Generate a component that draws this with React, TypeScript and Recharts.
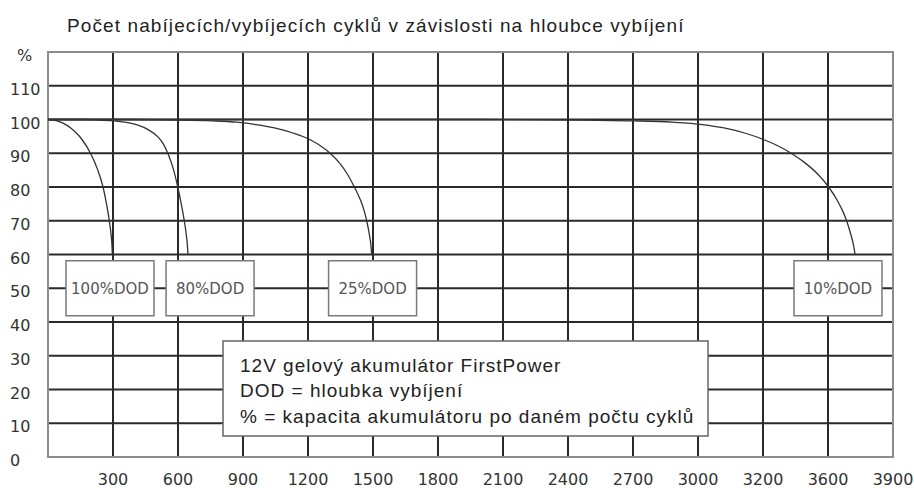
import React from 'react';
import { LineChart, Line, XAxis, YAxis, CartesianGrid, ReferenceArea, ReferenceDot } from 'recharts';

const xTickValues = [300, 600, 900, 1200, 1500, 1800, 2100, 2400, 2700, 3000, 3300, 3600, 3900];
const xTickLabels = ['300', '600', '900', '1200', '1500', '1800', '2100', '2400', '2700', '3000', '3200', '3600', '3900'];
const yTickValues = [0, 10, 20, 30, 40, 50, 60, 70, 80, 90, 100, 110, 120];

const dod100 = [
  { x: 0, y: 100 }, { x: 28, y: 99.8 }, { x: 55, y: 99.3 }, { x: 82, y: 98.5 },
  { x: 105, y: 97.5 }, { x: 131, y: 96 }, { x: 158, y: 94 }, { x: 196, y: 90 },
  { x: 230, y: 85 }, { x: 254, y: 80 }, { x: 270, y: 75 }, { x: 283, y: 70 },
  { x: 291, y: 66 }, { x: 295, y: 63 }, { x: 297, y: 60 },
];
const dod80 = [
  { x: 0, y: 100 }, { x: 150, y: 100 }, { x: 280, y: 99.7 }, { x: 355, y: 99.2 },
  { x: 415, y: 98.3 }, { x: 462, y: 97 }, { x: 505, y: 95 }, { x: 530, y: 93 },
  { x: 553, y: 90 }, { x: 580, y: 85 }, { x: 599, y: 80 }, { x: 615, y: 75 },
  { x: 629, y: 70 }, { x: 638, y: 66 }, { x: 643, y: 63 }, { x: 646, y: 60 },
];
const dod25 = [
  { x: 0, y: 100 }, { x: 300, y: 100 }, { x: 600, y: 99.85 }, { x: 760, y: 99.6 },
  { x: 870, y: 99.2 }, { x: 960, y: 98.5 }, { x: 1045, y: 97.5 }, { x: 1130, y: 96 },
  { x: 1210, y: 94 }, { x: 1262, y: 92 }, { x: 1302, y: 90 }, { x: 1347, y: 87 },
  { x: 1380, y: 84 }, { x: 1414, y: 80 }, { x: 1443, y: 76 }, { x: 1459, y: 73 },
  { x: 1471, y: 70 }, { x: 1483, y: 66 }, { x: 1490, y: 63 }, { x: 1494, y: 60 },
];
const dod10 = [
  { x: 0, y: 100 }, { x: 2000, y: 100 }, { x: 2450, y: 99.85 }, { x: 2700, y: 99.6 },
  { x: 2880, y: 99.2 }, { x: 3020, y: 98.5 }, { x: 3120, y: 97.5 }, { x: 3215, y: 96 },
  { x: 3305, y: 94 }, { x: 3375, y: 92 }, { x: 3430, y: 90 }, { x: 3497, y: 87 },
  { x: 3550, y: 84 }, { x: 3603, y: 80 }, { x: 3643, y: 76 }, { x: 3667, y: 73 },
  { x: 3686, y: 70 }, { x: 3705, y: 66 }, { x: 3717, y: 63 }, { x: 3725, y: 60 },
];

const dodLabels = [
  { x: 286, y: 50, text: '100%DOD' },
  { x: 748, y: 50, text: '80%DOD' },
  { x: 1498, y: 50, text: '25%DOD' },
  { x: 3646, y: 50, text: '10%DOD' },
];

const infoAnchor = { x: 1927, y: 20.3 };
const infoLines = [
  '12V gelový akumulátor FirstPower',
  'DOD = hloubka vybíjení',
  '% = kapacita akumulátoru po daném počtu cyklů',
];

const title = 'Počet nabíjecích/vybíjecích cyklů v závislosti na hloubce vybíjení';

const tickFont = '"DejaVu Sans", Verdana, sans-serif';
const textFont = '"Liberation Sans", Arial, sans-serif';

const YTick = (props: any) => {
  const { y, payload } = props;
  const isTop = payload.value === 120;
  return (
    <text x={isTop ? 17 : 10} y={y + 9} textAnchor="start" fontFamily={tickFont} fontSize={16} fill="#333">
      {isTop ? '%' : String(payload.value)}
    </text>
  );
};

const XTick = (props: any) => {
  const { x, y, payload } = props;
  const idx = xTickValues.indexOf(payload.value);
  return (
    <text x={x} y={y + 20} textAnchor="middle" fontFamily={tickFont} fontSize={16} fill="#333">
      {idx >= 0 ? xTickLabels[idx] : ''}
    </text>
  );
};

const DodBox = (text: string) => (props: any) => {
  const { cx, cy } = props;
  return (
    <g>
      <rect x={cx - 44} y={cy - 27.5} width={88} height={55} fill="#fff" stroke="#7a7a7a" strokeWidth={1.5} />
      <text x={cx} y={cy + 5.5} textAnchor="middle" fontFamily={tickFont} fontSize={15} fill="#555">{text}</text>
    </g>
  );
};

const InfoBox = (props: any) => {
  const { cx, cy } = props;
  const w = 485;
  const h = 95;
  return (
    <g>
      <rect x={cx - w / 2} y={cy - h / 2} width={w} height={h} fill="#fff" stroke="#666" strokeWidth={1.5} />
      {infoLines.map((t, i) => (
        <text key={i} x={cx - w / 2 + 17} y={cy - 16.5 + i * 25.5} fontFamily={textFont} fontSize={19}
          letterSpacing={1} fill="#222">{t}</text>
      ))}
    </g>
  );
};

export default function App() {
  return (
    <div style={{ position: 'absolute', left: 0, top: 0, width: 914, height: 488, background: '#fff' }}>
      <div style={{ position: 'absolute', left: 67, top: 15, fontFamily: textFont, fontSize: 19, letterSpacing: 1.1, color: '#222', whiteSpace: 'nowrap' }}>
        {title}
      </div>
      <LineChart width={914} height={488} margin={{ top: 52, right: 21, bottom: 0, left: 0 }}>
        <CartesianGrid stroke="#2a2a2a" strokeWidth={2} />
        <XAxis type="number" dataKey="x" domain={[0, 3900]} ticks={xTickValues} interval={0}
          axisLine={false} tickLine={false} height={31} tick={<XTick />} allowDataOverflow />
        <YAxis type="number" domain={[0, 120]} ticks={yTickValues} interval={0}
          axisLine={false} tickLine={false} width={48} tick={<YTick />} allowDataOverflow />
        <ReferenceArea x1={0} x2={3900} y1={0} y2={120} fill="none" fillOpacity={0} stroke="#8c8c8c" strokeWidth={2} />
        <Line data={dod100} dataKey="y" type="monotone" stroke="#333" strokeWidth={1.3} dot={false} isAnimationActive={false} />
        <Line data={dod80} dataKey="y" type="monotone" stroke="#333" strokeWidth={1.3} dot={false} isAnimationActive={false} />
        <Line data={dod25} dataKey="y" type="monotone" stroke="#333" strokeWidth={1.3} dot={false} isAnimationActive={false} />
        <Line data={dod10} dataKey="y" type="monotone" stroke="#333" strokeWidth={1.3} dot={false} isAnimationActive={false} />
        {dodLabels.map((d) => (
          <ReferenceDot key={d.text} x={d.x} y={d.y} r={1} shape={DodBox(d.text)} />
        ))}
        <ReferenceDot x={infoAnchor.x} y={infoAnchor.y} r={1} shape={InfoBox} />
      </LineChart>
    </div>
  );
}
